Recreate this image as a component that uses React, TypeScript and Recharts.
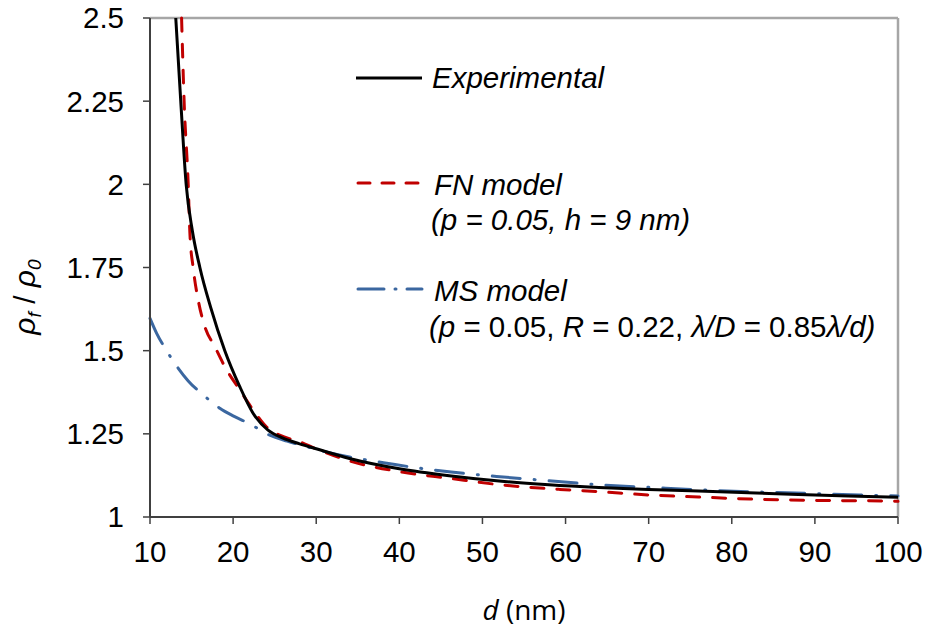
import React from 'react';
import { LineChart, Line, XAxis, YAxis, ReferenceLine } from 'recharts';

const xTicks = [10, 20, 30, 40, 50, 60, 70, 80, 90, 100];
const yTicks = [1, 1.25, 1.5, 1.75, 2, 2.25, 2.5];
const yTickLabels: Record<string, string> = { '1': '1', '1.25': '1.25', '1.5': '1.5', '1.75': '1.75', '2': '2', '2.25': '2.25', '2.5': '2.5' };

const expD = [13.1, 13.7, 14.35, 15.1, 16.0, 17.3, 19.0, 20.8, 22.4, 24.2, 26.0, 28.0, 30.0, 34.0, 40.0, 46.0, 52.0, 58.0, 64.0, 70.0, 76.0, 82.0, 88.0, 94.0, 100];
const expV = [2.5, 2.25, 2.0, 1.86, 1.75, 1.63, 1.5, 1.392, 1.312, 1.261, 1.237, 1.22, 1.205, 1.176, 1.145, 1.124, 1.108, 1.097, 1.089, 1.083, 1.078, 1.073, 1.068, 1.063, 1.059];

const fnD = [13.8, 14.1, 14.6, 14.8, 15.2, 15.8, 16.6, 17.8, 19.0, 20.8, 22.4, 24.0, 25.6, 28.0, 30.0, 34.1, 40.1, 46.1, 52.1, 59.3, 64.0, 70.2, 76.0, 82.2, 90.0, 98.2, 100];
const fnV = [2.5, 2.253, 1.998, 1.853, 1.748, 1.652, 1.572, 1.512, 1.452, 1.382, 1.322, 1.271, 1.246, 1.226, 1.205, 1.168, 1.136, 1.116, 1.097, 1.083, 1.076, 1.066, 1.06, 1.054, 1.05, 1.048, 1.047];

const msD = [10, 10.8, 12.0, 13.4, 14.6, 16.5, 18.4, 20.0, 22.0, 24.4, 26.5, 28.9, 31.3, 38.1, 44.9, 51.7, 57.9, 64.0, 70.9, 77.7, 84.7, 91.8, 100];
const msV = [1.597, 1.552, 1.5, 1.447, 1.409, 1.365, 1.327, 1.304, 1.28, 1.246, 1.228, 1.211, 1.195, 1.163, 1.139, 1.122, 1.109, 1.097, 1.088, 1.08, 1.074, 1.069, 1.063];

const seriesNames = ['Experimental', 'FN model', 'MS model'];
const seriesColors = ['#000000', '#C00000', '#3B67A0'];
const seriesDash = ['', '13 13', '28 14 1 14'];

const toData = (ds: number[], vs: number[]) => ds.map((d, i) => ({ d, v: vs[i] }));
const expData = toData(expD, expV);
const fnData = toData(fnD, fnV);
const msData = toData(msD, msV);

const FONT = '"Liberation Sans", Arial, sans-serif';
const AXIS = '#404040';
const BORDER = '#A6A6A6';
const TICK_FS = 29.5;

const YTick = (props: any) => {
  const { x, y, payload } = props;
  return (
    <text x={x - 17} y={y} dy="0.355em" textAnchor="end" fontFamily={FONT} fontSize={TICK_FS} fill="#000">
      {yTickLabels[String(payload.value)] ?? String(payload.value)}
    </text>
  );
};

const XTick = (props: any) => {
  const { x, y, payload } = props;
  return (
    <text x={x} y={y + 15} dy="0.71em" textAnchor="middle" fontFamily={FONT} fontSize={TICK_FS} fill="#000">
      {String(payload.value)}
    </text>
  );
};

export default function App() {
  return (
    <div style={{ position: 'absolute', left: 0, top: 0, width: 926, height: 630, background: '#fff' }}>
      <LineChart width={926} height={630} margin={{ top: 18, right: 28, bottom: 53, left: 0 }}>
        <XAxis
          type="number"
          dataKey="d"
          domain={[10, 100]}
          ticks={xTicks}
          allowDuplicatedCategory={false}
          height={60}
          tickSize={7}
          tick={<XTick />}
          axisLine={{ stroke: AXIS, strokeWidth: 2 }}
          tickLine={{ stroke: AXIS, strokeWidth: 1.5 }}
        />
        <YAxis
          type="number"
          dataKey="v"
          domain={[1, 2.5]}
          ticks={yTicks}
          width={150}
          tickSize={7}
          tick={<YTick />}
          axisLine={{ stroke: AXIS, strokeWidth: 2 }}
          tickLine={{ stroke: AXIS, strokeWidth: 1.5 }}
        />
        <ReferenceLine y={2.5} stroke={BORDER} strokeWidth={2.5} />
        <ReferenceLine x={100} stroke={BORDER} strokeWidth={2.5} />
        <Line data={msData} dataKey="v" type="monotone" stroke={seriesColors[2]} strokeWidth={3} strokeDasharray={seriesDash[2]} strokeLinecap="round" dot={false} isAnimationActive={false} />
        <Line data={fnData} dataKey="v" type="monotone" stroke={seriesColors[1]} strokeWidth={3} strokeDasharray={seriesDash[1]} strokeLinecap="round" dot={false} isAnimationActive={false} />
        <Line data={expData} dataKey="v" type="monotone" stroke={seriesColors[0]} strokeWidth={3} dot={false} isAnimationActive={false} />
      </LineChart>
      <svg width={926} height={630} style={{ position: 'absolute', left: 0, top: 0, pointerEvents: 'none' }}>
        {/* Legend */}
        <line x1={356} x2={422} y1={78} y2={78} stroke={seriesColors[0]} strokeWidth={3} />
        <text x={432} y={88} fontFamily={FONT} fontSize={29.5} fontStyle="italic">{seriesNames[0]}</text>

        <line x1={358} x2={422} y1={183} y2={183} stroke={seriesColors[1]} strokeWidth={3} strokeDasharray="12 12" strokeLinecap="round" />
        <text x={434} y={195} fontFamily={FONT} fontSize={29.5} fontStyle="italic">{seriesNames[1]}</text>
        <text x={431} y={230} fontFamily={FONT} fontSize={29.5} fontStyle="italic">(p = 0.05, h = 9 nm)</text>

        <line x1={358} x2={422} y1={289} y2={289} stroke={seriesColors[2]} strokeWidth={3} strokeDasharray="26 11 1 11" strokeLinecap="round" />
        <text x={434} y={301} fontFamily={FONT} fontSize={29.5} fontStyle="italic">{seriesNames[2]}</text>
        <text x={429} y={337} fontFamily={FONT} fontSize={29.5}>
          <tspan fontStyle="italic">(p</tspan>
          <tspan> = 0.05, </tspan>
          <tspan fontStyle="italic">R</tspan>
          <tspan> = 0.22, </tspan>
          <tspan fontStyle="italic">λ/D</tspan>
          <tspan> = 0.85</tspan>
          <tspan fontStyle="italic">λ/d)</tspan>
        </text>

        {/* Axis titles */}
        <text x={524} y={620} textAnchor="middle" fontFamily='"Open Sans", sans-serif' fontSize={28}>
          <tspan fontStyle="italic">d</tspan>
          <tspan> (nm)</tspan>
        </text>
        <text transform="translate(35,297) rotate(-90)" textAnchor="middle" fontFamily={FONT} fontSize={30}>
          <tspan fontStyle="italic">ρ</tspan>
          <tspan fontStyle="italic" fontSize={19} dy={6}>f</tspan>
          <tspan dy={-6}> / </tspan>
          <tspan fontStyle="italic">ρ</tspan>
          <tspan fontStyle="italic" fontSize={19} dy={6}>0</tspan>
        </text>
      </svg>
    </div>
  );
}
